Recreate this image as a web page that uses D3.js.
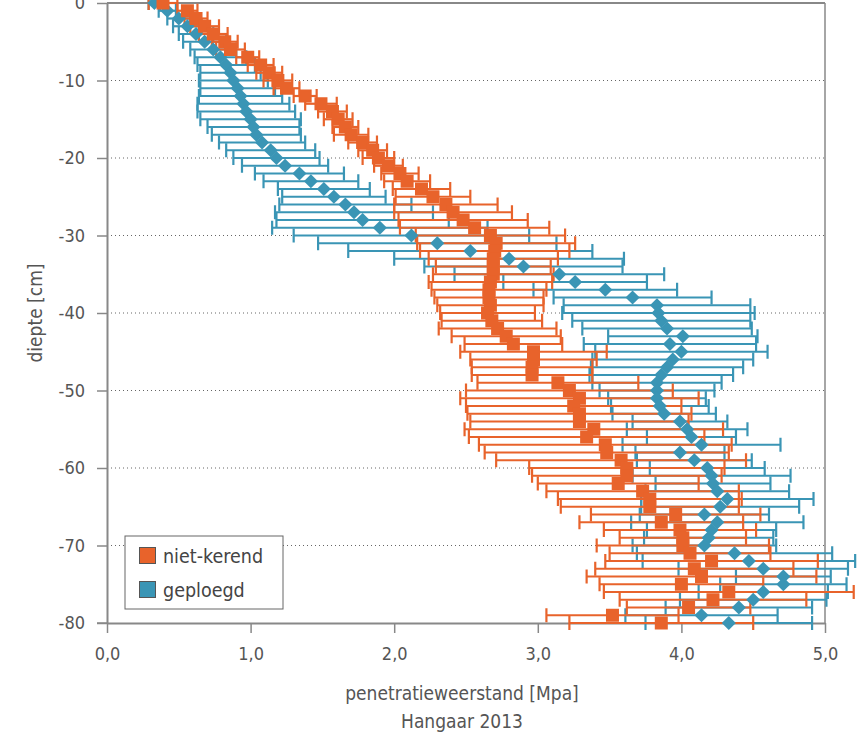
<!DOCTYPE html>
<html>
<head>
<meta charset="utf-8">
<script src="https://cdn.jsdelivr.net/npm/d3@7"></script>
<style>
  body { margin: 0; background: #fff; }
  text { font-family: "DejaVu Sans Condensed", "Liberation Sans Narrow", Roboto, sans-serif; fill: #555; }
</style>
</head>
<body>
<div id="chart"></div>
<script>
// depth in cm (one reading per cm)
const depth = [0,-1,-2,-3,-4,-5,-6,-7,-8,-9,-10,-11,-12,-13,-14,-15,-16,-17,-18,-19,-20,
  -21,-22,-23,-24,-25,-26,-27,-28,-29,-30,-31,-32,-33,-34,-35,-36,-37,-38,-39,-40,
  -41,-42,-43,-44,-45,-46,-47,-48,-49,-50,-51,-52,-53,-54,-55,-56,-57,-58,-59,-60,
  -61,-62,-63,-64,-65,-66,-67,-68,-69,-70,-71,-72,-73,-74,-75,-76,-77,-78,-79,-80];

// niet-kerend: mean penetration resistance [MPa] and error
const nietKerend = [0.39,0.56,0.62,0.68,0.74,0.82,0.86,0.98,1.07,1.13,1.19,1.25,1.38,1.49,1.57,1.61,1.66,1.70,1.78,1.85,1.89,
  1.96,2.04,2.09,2.19,2.27,2.36,2.41,2.48,2.56,2.67,2.71,2.70,2.69,2.69,2.69,2.67,2.66,2.66,2.67,2.65,
  2.68,2.72,2.78,2.83,2.97,2.97,2.96,2.96,3.14,3.22,3.29,3.25,3.29,3.29,3.39,3.34,3.47,3.48,3.58,3.62,
  3.62,3.56,3.73,3.78,3.78,3.96,3.86,3.99,4.01,4.01,4.06,4.21,4.09,4.14,4.00,4.33,4.22,4.05,3.52,3.86];
const nietKerendErr = [0.10,0.07,0.08,0.10,0.10,0.09,0.10,0.08,0.09,0.09,0.10,0.09,0.08,0.11,0.10,0.10,0.09,0.12,0.10,0.10,0.11,
  0.10,0.13,0.16,0.20,0.26,0.36,0.41,0.45,0.52,0.52,0.55,0.52,0.45,0.40,0.42,0.43,0.40,0.38,0.37,0.33,
  0.35,0.41,0.38,0.34,0.51,0.44,0.42,0.42,0.56,0.72,0.83,0.75,0.78,0.76,0.90,0.82,0.88,0.85,0.87,0.68,
  0.66,0.56,0.67,0.64,0.62,0.59,0.57,0.53,0.44,0.60,0.56,0.74,0.69,0.80,0.57,0.87,0.65,0.43,0.46,0.64];

// geploegd
const geploegd = [0.33,0.42,0.50,0.56,0.62,0.68,0.74,0.79,0.83,0.86,0.88,0.91,0.93,0.95,0.97,1.00,1.02,1.04,1.08,1.14,1.18,
  1.24,1.34,1.42,1.51,1.58,1.66,1.72,1.78,1.90,2.12,2.30,2.53,2.80,2.90,3.15,3.26,3.47,3.66,3.83,3.84,
  3.86,3.90,4.01,3.92,4.00,3.94,3.90,3.86,3.83,3.83,3.83,3.85,3.88,3.99,4.04,4.07,4.14,3.99,4.09,4.18,
  4.21,4.22,4.25,4.32,4.27,4.16,4.25,4.21,4.19,4.16,4.37,4.47,4.57,4.71,4.71,4.57,4.50,4.40,4.14,4.33];
const geploegdErr = [0.04,0.06,0.08,0.10,0.12,0.15,0.16,0.18,0.20,0.21,0.24,0.26,0.29,0.32,0.34,0.35,0.32,0.31,0.30,0.31,0.30,
  0.30,0.31,0.33,0.32,0.36,0.46,0.55,0.60,0.75,0.82,0.83,0.85,0.80,0.69,0.73,0.50,0.50,0.55,0.65,0.67,
  0.62,0.59,0.52,0.60,0.60,0.56,0.53,0.50,0.45,0.40,0.34,0.34,0.36,0.33,0.42,0.31,0.55,0.31,0.40,0.40,
  0.55,0.40,0.50,0.60,0.55,0.45,0.60,0.45,0.45,0.50,0.68,0.74,0.59,0.33,0.44,0.45,0.51,0.51,0.53,0.58];

const xTicks = [0, 1, 2, 3, 4, 5];
const yTicks = [0, -10, -20, -30, -40, -50, -60, -70, -80];
const gridTicks = [-10, -20, -30, -40, -50, -60, -70];

const orange = "#e8632b";
const blue = "#3a95b5";

const margin = {top: 3, left: 107};
const width = 718;
const height = 620;

const svg = d3.select("#chart").append("svg")
    .attr("width", 862)
    .attr("height", 735);

const g = svg.append("g")
    .attr("transform", `translate(${margin.left}, ${margin.top})`);

const x = d3.scaleLinear().domain([0, 5]).range([0, width]);
const y = d3.scaleLinear().domain([0, -80]).range([0, height]);

// dotted grid
g.selectAll(".grid")
    .data(gridTicks)
    .enter().append("line")
    .attr("x1", 0).attr("x2", width)
    .attr("y1", d => y(d)).attr("y2", d => y(d))
    .style("stroke", "#666")
    .style("stroke-width", 1)
    .style("stroke-dasharray", "1,3");

// frame top and right
g.append("line").attr("x1", 0).attr("x2", width).attr("y1", 0).attr("y2", 0)
    .style("stroke", "#888").style("stroke-width", 2);
g.append("line").attr("x1", width).attr("x2", width).attr("y1", 0).attr("y2", height)
    .style("stroke", "#888").style("stroke-width", 1.5);

// axes
const yAxis = g.append("g")
    .call(d3.axisLeft(y).tickValues(yTicks).tickSize(10).tickSizeOuter(0).tickPadding(12)
        .tickFormat(d => String(d)));
const xAxis = g.append("g")
    .attr("transform", `translate(0, ${height})`)
    .call(d3.axisBottom(x).tickValues(xTicks).tickSize(10).tickSizeOuter(0).tickPadding(14)
        .tickFormat(d => d.toFixed(1).replace(".", ",")));

[yAxis, xAxis].forEach(a => {
    a.select(".domain").style("stroke", "#888").style("stroke-width", 2);
    a.selectAll(".tick line").style("stroke", "#888").style("stroke-width", 1.5);
    a.selectAll(".tick text").style("font-size", "18px").style("fill", "#555");
});
// x axis line extends left to the -80 tick
xAxis.append("line").attr("x1", -10).attr("x2", 0).attr("y1", 0).attr("y2", 0)
    .style("stroke", "#888").style("stroke-width", 1.5);

// error bars
function errorBars(values, errs, color, cls) {
    const data = depth.map((d, i) => ({d: d, v: values[i], e: errs[i]}));
    const grp = g.append("g").attr("class", cls)
        .style("stroke", color).style("stroke-width", 2.2);
    grp.selectAll(".bar").data(data).enter().append("line")
        .attr("x1", d => x(d.v - d.e)).attr("x2", d => x(d.v + d.e))
        .attr("y1", d => y(d.d)).attr("y2", d => y(d.d));
    grp.selectAll(".capl").data(data).enter().append("line")
        .attr("x1", d => x(d.v - d.e)).attr("x2", d => x(d.v - d.e))
        .attr("y1", d => y(d.d) - 7).attr("y2", d => y(d.d) + 7);
    grp.selectAll(".capr").data(data).enter().append("line")
        .attr("x1", d => x(d.v + d.e)).attr("x2", d => x(d.v + d.e))
        .attr("y1", d => y(d.d) - 7).attr("y2", d => y(d.d) + 7);
    return data;
}

const blueData = errorBars(geploegd, geploegdErr, blue, "err-geploegd");
const orangeData = errorBars(nietKerend, nietKerendErr, orange, "err-nietkerend");

// markers
g.selectAll(".diamond")
    .data(blueData)
    .enter().append("path")
    .attr("class", "diamond")
    .attr("d", d3.symbol().type(d3.symbolSquare).size(100))
    .attr("transform", d => `translate(${x(d.v)}, ${y(d.d)}) rotate(45)`)
    .style("fill", blue);

g.selectAll(".square")
    .data(orangeData)
    .enter().append("rect")
    .attr("class", "square")
    .attr("x", d => x(d.v) - 6.5)
    .attr("y", d => y(d.d) - 6.5)
    .attr("width", 13)
    .attr("height", 13)
    .style("fill", orange);

// legend
const legend = svg.append("g").attr("transform", "translate(125, 536)");
legend.append("rect")
    .attr("width", 158).attr("height", 73)
    .style("fill", "#fff").style("stroke", "#666").style("stroke-width", 1);
const legendItems = [{name: "niet-kerend", color: orange}, {name: "geploegd", color: blue}];
legendItems.forEach((item, i) => {
    legend.append("rect")
        .attr("x", 14.5).attr("y", 11.5 + i * 34)
        .attr("width", 16).attr("height", 16)
        .style("fill", item.color).style("stroke", "#555").style("stroke-width", 1);
    legend.append("text")
        .attr("x", 38).attr("y", 20 + i * 34)
        .attr("dy", "0.35em")
        .style("font-size", "19.5px")
        .style("fill", "#444")
        .text(item.name);
});

// axis titles
svg.append("text")
    .attr("x", 462).attr("y", 693)
    .attr("dy", "0.35em")
    .attr("text-anchor", "middle")
    .style("font-size", "19px")
    .text("penetratieweerstand [Mpa]");
svg.append("text")
    .attr("x", 462).attr("y", 721)
    .attr("dy", "0.35em")
    .attr("text-anchor", "middle")
    .style("font-size", "19px")
    .text("Hangaar 2013");
svg.append("text")
    .attr("transform", "translate(35, 313) rotate(-90)")
    .attr("dy", "0.35em")
    .attr("text-anchor", "middle")
    .style("font-size", "19px")
    .text("diepte [cm]");
</script>
</body>
</html>
